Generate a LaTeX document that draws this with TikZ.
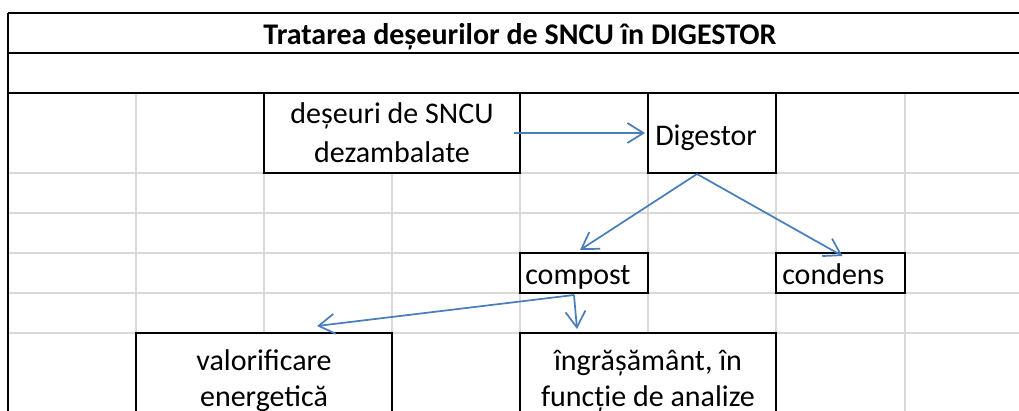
\documentclass[tikz,border=0pt]{standalone}
\usepackage{fontspec}
\setmainfont{Carlito}
\usetikzlibrary{arrows.meta,calc}
\definecolor{gridgray}{HTML}{D9D9D9}
\definecolor{arrowblue}{HTML}{4A7EBB}
\tikzset{
  gridline/.style={draw=gridgray,line width=1.2pt},
  frameline/.style={draw=black,line width=1.5pt},
  cellbox/.style={draw=black,line width=1.5pt,fill=white,inner sep=0pt,rectangle},
  txt/.style={inner sep=0pt,font=\fontsize{22.5pt}{27pt}\selectfont},
  ttl/.style={inner sep=0pt,font=\fontsize{22.5pt}{27pt}\selectfont\bfseries},
  flow/.style={draw=arrowblue,line width=1.3pt,-{Straight Barb[length=12pt,width=15pt,line width=1.3pt]}}
}
\begin{document}
\begin{tikzpicture}[x=0.75pt,y=-0.75pt]
\useasboundingbox (0,0) rectangle (1019,410);
% grid
\foreach \yy in {173,213,253,293,333}{\draw[gridline] (8,\yy) -- (1019,\yy);}
\foreach \xx in {136,264,392,520,648,776,905}{\draw[gridline] (\xx,93) -- (\xx,420);}
% boxes
\node[cellbox,minimum width=192pt,minimum height=60pt] (deseuri) at (392,133) {};
\node[cellbox,minimum width=96pt,minimum height=60pt] (digestor) at (712,133) {};
\node[cellbox,minimum width=96pt,minimum height=30pt] (compost) at (584,273) {};
\node[cellbox,minimum width=96.75pt,minimum height=30pt] (condens) at (840.5,273) {};
\node[cellbox,minimum width=192pt,minimum height=75pt] (valorif) at (264,383) {};
\node[cellbox,minimum width=192pt,minimum height=75pt] (ingras) at (648,383) {};
% frame
\draw[frameline] (8,13) -- (1019,13);
\draw[frameline] (8,53) -- (1019,53);
\draw[frameline] (8,93) -- (1019,93);
\draw[frameline] (8,13) -- (8,420);
% texts
\node[ttl,anchor=base] (title) at (520,45) {Tratarea deșeurilor de SNCU în DIGESTOR};
\node[txt,anchor=base] (d1) at (392,123) {deșeuri de SNCU};
\node[txt,anchor=base] (d2) at (392,162) {dezambalate};
\node[txt,anchor=base west] (dg) at (655,145) {Digestor};
\node[txt,anchor=base west] (cp) at (525,284) {compost};
\node[txt,anchor=base west] (cd) at (782,284) {condens};
\node[txt,anchor=base] (v1) at (264,370) {valorificare};
\node[txt,anchor=base] (v2) at (264,406) {energetică};
\node[txt,anchor=base] (i1) at (648,370) {îngrășământ, în};
\node[txt,anchor=base] (i2) at (648,406) {funcție de analize};
% connectors
\draw[flow] ($(deseuri.east)+(-7,0)$) -- ($(digestor.west)+(-2,0)$);
\coordinate (dsplit) at ($(digestor.south)+(-15,0)$);
\draw[flow] (dsplit) -- ($(compost.north)+(-4,-2)$);
\draw[flow] (dsplit) -- ($(condens.north)+(2,4)$);
\coordinate (csplit) at ($(compost.south)+(-10,1)$);
\draw[flow] (csplit) -- ($(valorif.north)+(53,-6)$);
\draw[flow] (csplit) -- ($(ingras.north)+(-71,-3)$);
\end{tikzpicture}
\end{document}
